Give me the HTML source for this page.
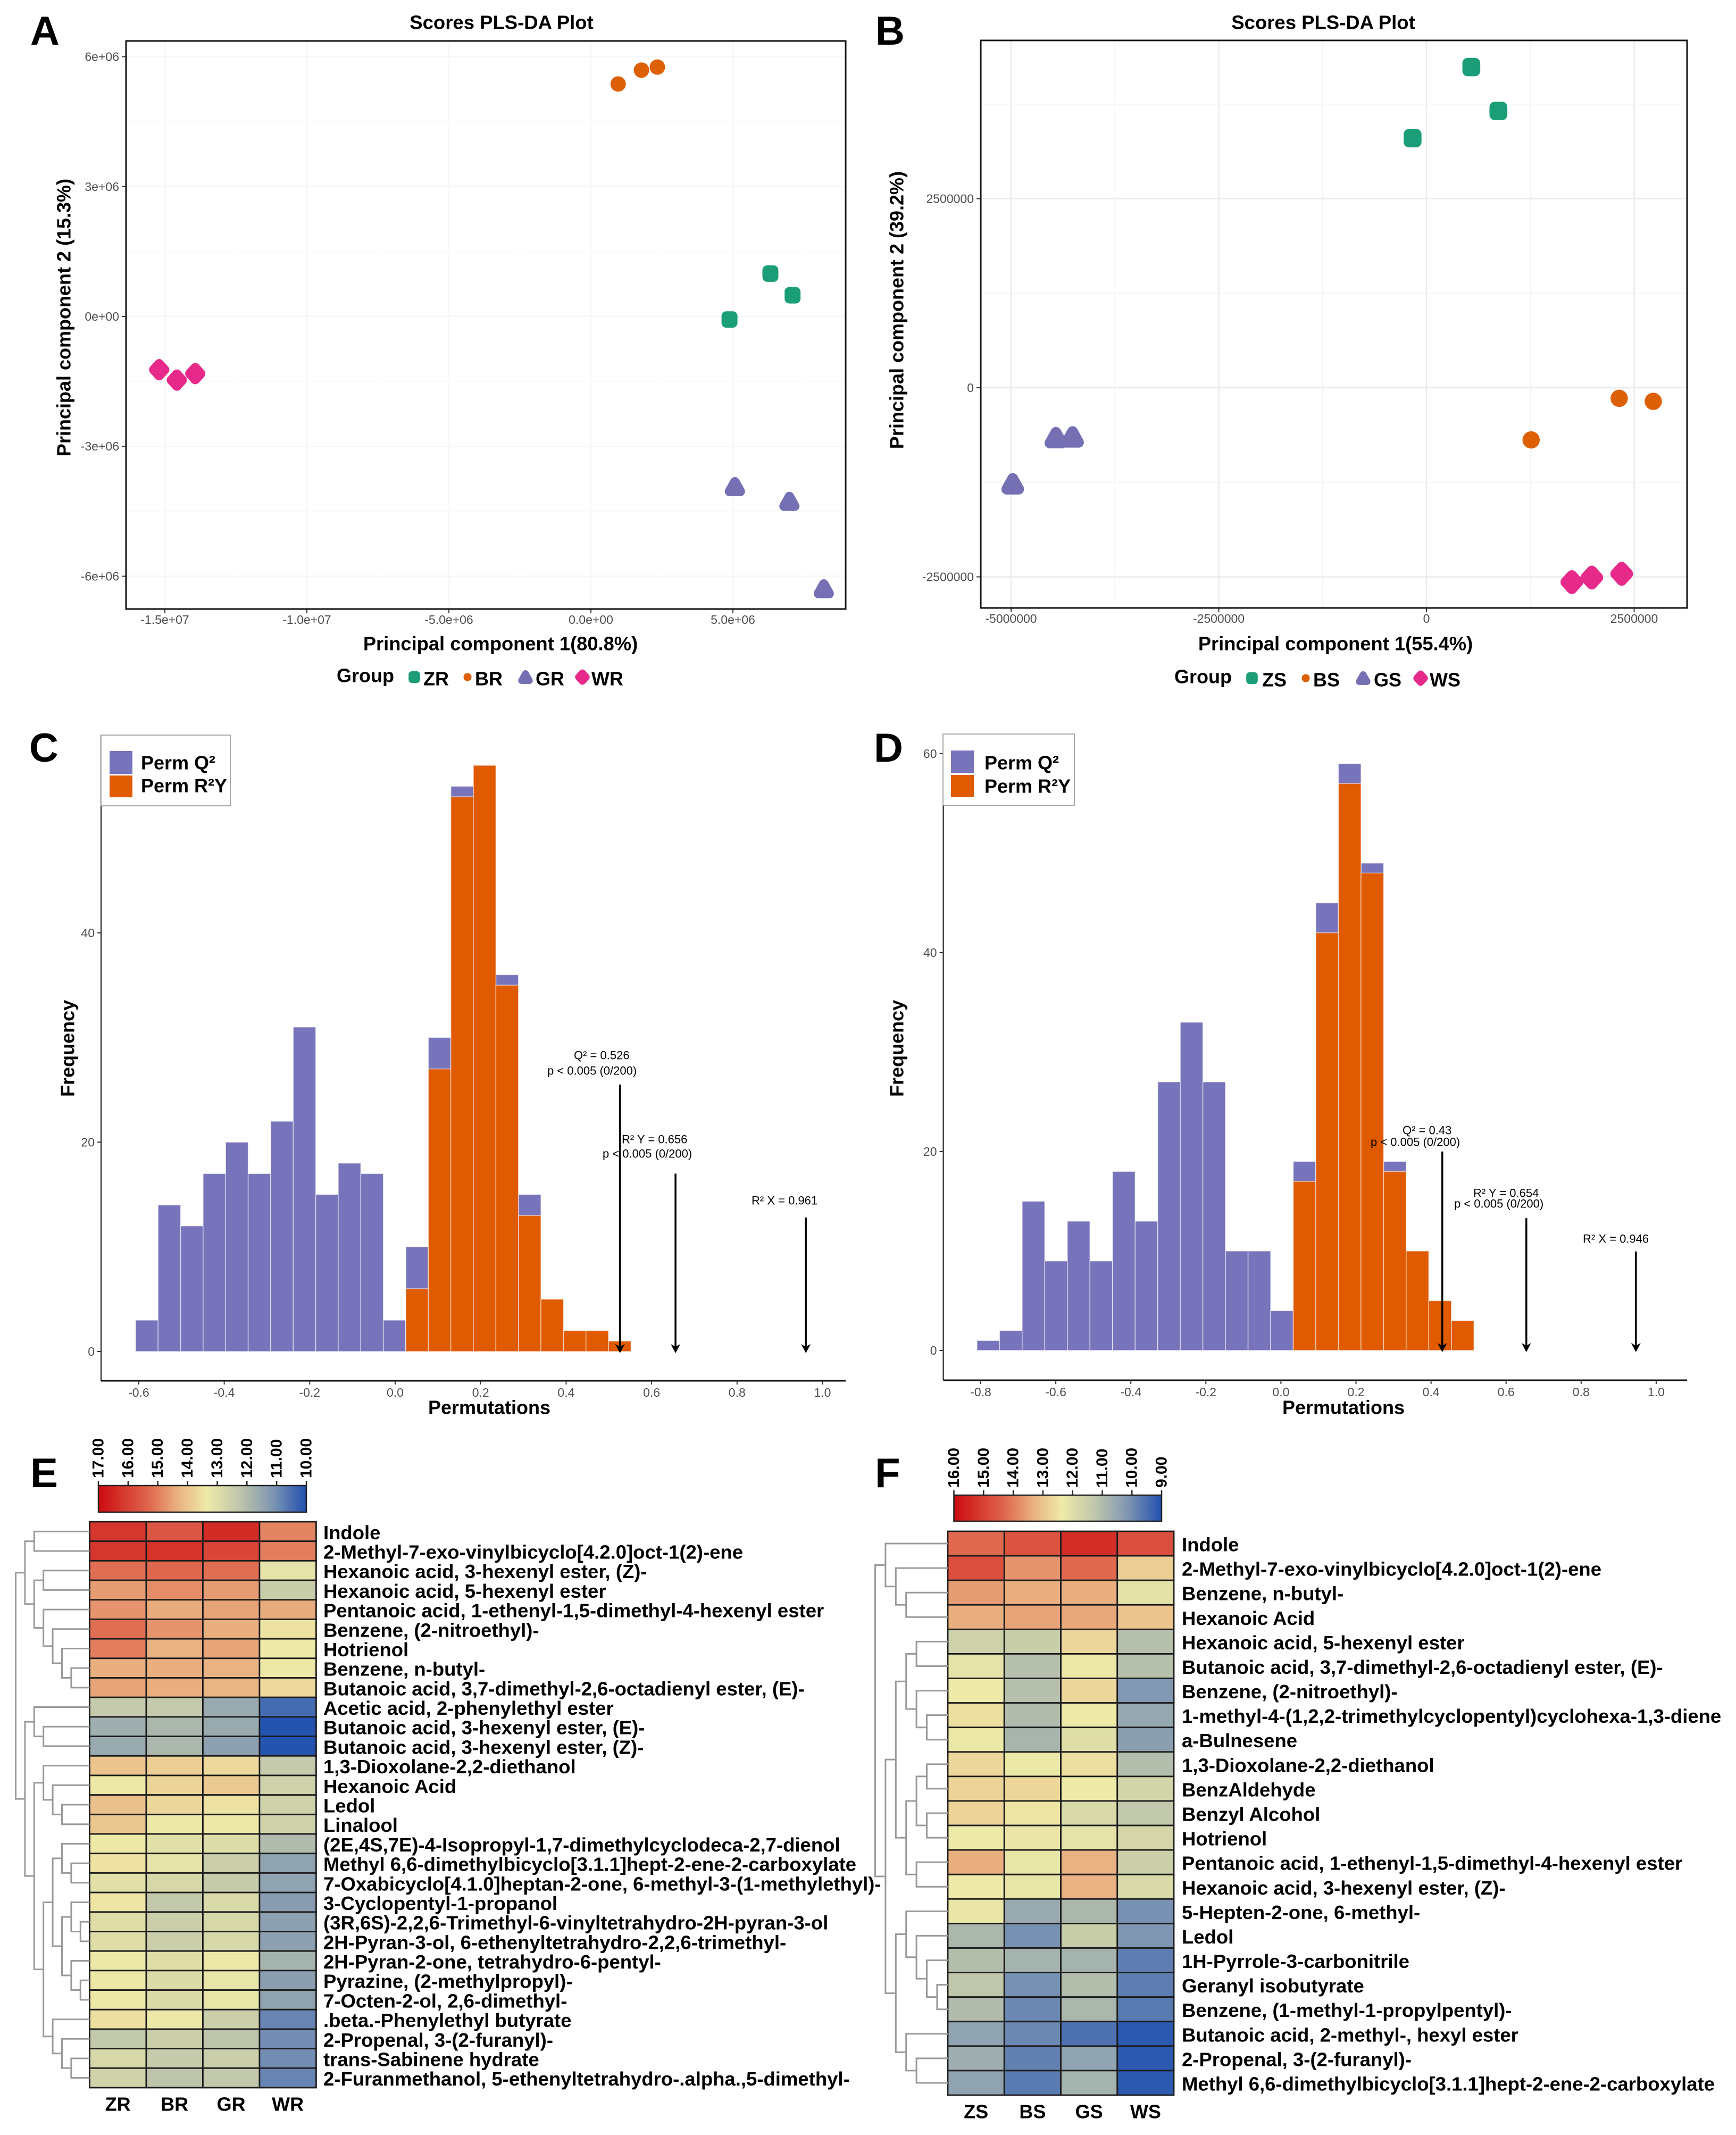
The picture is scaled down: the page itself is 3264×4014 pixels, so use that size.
<!DOCTYPE html>
<html lang="en">
<head>
<meta charset="utf-8">
<title>PLS-DA scores, permutation tests and heatmaps</title>
<style>
html,body{margin:0;padding:0;background:#fff;}
svg{display:block;font-family:"Liberation Sans",Arial,sans-serif;}
.b{font-weight:700;fill:#000;}
.ann{font-size:22px;fill:#000;}
</style>
</head>
<body>
<svg id="fig" xmlns="http://www.w3.org/2000/svg" width="3264" height="4014" viewBox="0 0 3264 4014">
<defs>
<linearGradient id="ramp" x1="0" y1="0" x2="1" y2="0">
<stop offset="0" stop-color="#cc0a10"/><stop offset="0.25" stop-color="#e06a50"/><stop offset="0.38" stop-color="#e9b080"/><stop offset="0.52" stop-color="#eeeaa8"/><stop offset="0.68" stop-color="#bfc6ab"/><stop offset="0.84" stop-color="#7d95b2"/><stop offset="1" stop-color="#2050b0"/>
</linearGradient>
</defs>
<rect width="3264" height="4014" fill="#fff"/>

<g id="panelA">
<text class="b" x="57" y="84" font-size="76">A</text>
<text class="b" x="943" y="42" font-size="36.5" text-anchor="middle" dominant-baseline="central">Scores PLS-DA Plot</text>
<text class="b" x="941" y="1210" font-size="36.3" text-anchor="middle" dominant-baseline="central">Principal component 1(80.8%)</text>
<text class="b" x="120" y="597" font-size="36" text-anchor="middle" dominant-baseline="central" transform="rotate(-90 120 597)">Principal component 2 (15.3%)</text>
<text class="b" x="633" y="1270" font-size="36" dominant-baseline="central">Group</text>
</g>

<g id="panelB">
<text class="b" x="1646" y="84" font-size="76">B</text>
<text class="b" x="2488" y="42" font-size="36.5" text-anchor="middle" dominant-baseline="central">Scores PLS-DA Plot</text>
<text class="b" x="2511" y="1210" font-size="36.3" text-anchor="middle" dominant-baseline="central">Principal component 1(55.4%)</text>
<text class="b" x="1686" y="583" font-size="36" text-anchor="middle" dominant-baseline="central" transform="rotate(-90 1686 583)">Principal component 2 (39.2%)</text>
<text class="b" x="2208" y="1272" font-size="36" dominant-baseline="central">Group</text>
</g>

<g id="panelC">
<text class="b" x="55" y="1432" font-size="76">C</text>
<text class="b" x="920" y="2646" font-size="36" text-anchor="middle" dominant-baseline="central">Permutations</text>
<text class="b" x="127" y="1971" font-size="36" text-anchor="middle" dominant-baseline="central" transform="rotate(-90 127 1971)">Frequency</text>
</g>
<g id="annC">
<text class="ann" x="1079" y="1984" dominant-baseline="central">Q² = 0.526</text>
<text class="ann" x="1029" y="2013" dominant-baseline="central">p &lt; 0.005 (0/200)</text>
<text class="ann" x="1169" y="2142" dominant-baseline="central">R² Y = 0.656</text>
<text class="ann" x="1133" y="2169" dominant-baseline="central">p &lt; 0.005 (0/200)</text>
<text class="ann" x="1413" y="2257" dominant-baseline="central">R² X = 0.961</text>
</g>
<g>
<rect x="190" y="1382" width="243" height="133" fill="#fff" stroke="#8a8a8a" stroke-width="1.5"/>
<rect x="206" y="1412" width="43" height="43" fill="#7874bb"/>
<rect x="206" y="1458" width="43" height="41" fill="#e05a00"/>
<text class="b" x="265" y="1434" font-size="36" dominant-baseline="central">Perm Q²</text>
<text class="b" x="265" y="1477" font-size="36" dominant-baseline="central">Perm R²Y</text>
</g>

<g id="panelD">
<text class="b" x="1643" y="1432" font-size="76">D</text>
<text class="b" x="2526" y="2646" font-size="36" text-anchor="middle" dominant-baseline="central">Permutations</text>
<text class="b" x="1686" y="1971" font-size="36" text-anchor="middle" dominant-baseline="central" transform="rotate(-90 1686 1971)">Frequency</text>
</g>
<g id="annD">
<text class="ann" x="2637" y="2125" dominant-baseline="central">Q² = 0.43</text>
<text class="ann" x="2577" y="2147" dominant-baseline="central">p &lt; 0.005 (0/200)</text>
<text class="ann" x="2770" y="2243" dominant-baseline="central">R² Y = 0.654</text>
<text class="ann" x="2734" y="2263" dominant-baseline="central">p &lt; 0.005 (0/200)</text>
<text class="ann" x="2976" y="2329" dominant-baseline="central">R² X = 0.946</text>
</g>
<g>
<rect x="1773" y="1380" width="247" height="134" fill="#fff" stroke="#8a8a8a" stroke-width="1.5"/>
<rect x="1788" y="1411" width="43" height="42" fill="#7874bb"/>
<rect x="1788" y="1457" width="43" height="41" fill="#e05a00"/>
<text class="b" x="1851" y="1434" font-size="36" dominant-baseline="central">Perm Q²</text>
<text class="b" x="1851" y="1478" font-size="36" dominant-baseline="central">Perm R²Y</text>
</g>

<g id="panelE">
<text class="b" x="57" y="2796" font-size="78">E</text>
<rect x="185" y="2793" width="391" height="50" fill="url(#ramp)" stroke="#222" stroke-width="2.5"/>
</g>
<g id="panelF">
<text class="b" x="1645" y="2796" font-size="78">F</text>
<rect x="1793.5" y="2811" width="390.5" height="49" fill="url(#ramp)" stroke="#222" stroke-width="2.5"/>
</g>
</svg>

<script>
// ---------- Panel A scores (units of 1e6) ----------
const aXTicks = [-15, -10, -5, 0, 5];
const aXTickLabels = ['-1.5e+07', '-1.0e+07', '-5.0e+06', '0.0e+00', '5.0e+06'];
const aYTicks = [-6, -3, 0, 3, 6];
const aYTickLabels = ['-6e+06', '-3e+06', '0e+00', '3e+06', '6e+06'];
const aZrX = [6.32, 7.10, 4.88];
const aZrY = [0.99, 0.49, -0.07];
const aBrX = [0.96, 1.78, 2.34];
const aBrY = [5.37, 5.69, 5.76];
const aGrX = [5.07, 6.99, 8.20];
const aGrY = [-3.93, -4.27, -6.29];
const aWrX = [-15.2, -14.58, -13.93];
const aWrY = [-1.23, -1.47, -1.32];

// ---------- Panel B scores (units of 1e6) ----------
const bXTicks = [-5, -2.5, 0, 2.5];
const bXTickLabels = ['-5000000', '-2500000', '0', '2500000'];
const bYTicks = [-2.5, 0, 2.5];
const bYTickLabels = ['-2500000', '0', '2500000'];
const bZsX = [0.54, 0.866, -0.167];
const bZsY = [4.24, 3.66, 3.30];
const bBsX = [2.32, 2.73, 1.26];
const bBsY = [-0.14, -0.18, -0.69];
const bGsX = [-4.98, -4.46, -4.26];
const bGsY = [-1.27, -0.66, -0.65];
const bWsX = [1.75, 1.99, 2.35];
const bWsY = [-2.57, -2.51, -2.46];

// ---------- Panel C histogram ----------
const cXTicks = [-0.6, -0.4, -0.2, 0, 0.2, 0.4, 0.6, 0.8, 1.0];
const cYTicks = [0, 20, 40];
const cBinStart = -0.6075;
const cBinWidth = 0.0527;
const cQ2Counts = [3, 14, 12, 17, 20, 17, 22, 31, 15, 18, 17, 3, 10, 30, 54, 55, 36, 15];
const cR2yCounts = [0, 0, 0, 0, 0, 0, 0, 0, 0, 0, 0, 0, 6, 27, 53, 56, 35, 13, 5, 2, 2, 1];
const cArrowValues = [0.526, 0.656, 0.961];
const cArrowTops = [25.5, 17, 12.8];

// ---------- Panel D histogram ----------
const dXTicks = [-0.8, -0.6, -0.4, -0.2, 0, 0.2, 0.4, 0.6, 0.8, 1.0];
const dYTicks = [0, 20, 40, 60];
const dBinStart = -0.81;
const dBinWidth = 0.0602;
const dQ2Counts = [1, 2, 15, 9, 13, 9, 18, 13, 27, 33, 27, 10, 10, 4, 19, 45, 59, 49, 19];
const dR2yCounts = [0, 0, 0, 0, 0, 0, 0, 0, 0, 0, 0, 0, 0, 0, 17, 42, 57, 48, 18, 10, 5, 3];
const dArrowValues = [0.43, 0.654, 0.946];
const dArrowTops = [20, 13.3, 9.95];

// ---------- Panel E heatmap ----------
const eColumns = ['ZR', 'BR', 'GR', 'WR'];
const eRows = ['Indole','2-Methyl-7-exo-vinylbicyclo[4.2.0]oct-1(2)-ene','Hexanoic acid, 3-hexenyl ester, (Z)-','Hexanoic acid, 5-hexenyl ester','Pentanoic acid, 1-ethenyl-1,5-dimethyl-4-hexenyl ester','Benzene, (2-nitroethyl)-','Hotrienol','Benzene, n-butyl-','Butanoic acid, 3,7-dimethyl-2,6-octadienyl ester, (E)-','Acetic acid, 2-phenylethyl ester','Butanoic acid, 3-hexenyl ester, (E)-','Butanoic acid, 3-hexenyl ester, (Z)-','1,3-Dioxolane-2,2-diethanol','Hexanoic Acid','Ledol','Linalool','(2E,4S,7E)-4-Isopropyl-1,7-dimethylcyclodeca-2,7-dienol','Methyl 6,6-dimethylbicyclo[3.1.1]hept-2-ene-2-carboxylate','7-Oxabicyclo[4.1.0]heptan-2-one, 6-methyl-3-(1-methylethyl)-','3-Cyclopentyl-1-propanol','(3R,6S)-2,2,6-Trimethyl-6-vinyltetrahydro-2H-pyran-3-ol','2H-Pyran-3-ol, 6-ethenyltetrahydro-2,2,6-trimethyl-','2H-Pyran-2-one, tetrahydro-6-pentyl-','Pyrazine, (2-methylpropyl)-','7-Octen-2-ol, 2,6-dimethyl-','.beta.-Phenylethyl butyrate','2-Propenal, 3-(2-furanyl)-','trans-Sabinene hydrate','2-Furanmethanol, 5-ethenyltetrahydro-.alpha.,5-dimethyl-'];
const eZR = [16.2,16.2,15.2,14.6,14.7,15.2,15.0,14.35,14.5,12.35,11.7,11.6,14.0,13.4,14.05,13.95,13.4,13.5,13.05,13.45,13.0,13.0,13.3,13.4,13.4,13.55,12.3,12.8,12.65];
const eBR = [15.6,16.25,15.3,14.8,14.4,14.7,14.3,14.35,14.35,12.35,11.9,11.9,13.85,13.75,13.7,13.3,13.05,13.15,12.8,12.3,12.5,12.5,13.0,12.9,12.9,13.3,12.5,12.4,12.2];
const eGR = [16.4,15.9,15.2,14.6,14.5,14.35,14.5,14.3,14.25,11.6,11.6,11.4,13.65,13.9,13.5,13.4,12.95,12.5,12.4,12.85,12.8,12.8,13.4,13.2,13.2,12.5,12.2,12.5,12.3];
const eWR = [14.9,15.0,13.15,12.45,14.4,13.5,13.35,13.4,13.65,10.45,10.05,10.05,12.35,12.6,12.65,12.65,12.0,11.45,11.45,11.3,11.4,11.4,11.8,11.35,11.45,10.85,11.0,11.0,10.85];
const eScaleTicks = [17, 16, 15, 14, 13, 12, 11, 10];
const eTree = [0,[1,[2,0,1],[2,[3,2,3],[3,4,[4,5,[5,6,[6,7,8]]]]]],[1,[2,9,[3,10,11]],[2,[3,12,[4,13,[5,14,15]]],[3,[4,[5,16,[6,17,18]],[5,[6,19,[7,20,21]],[6,22,[7,23,24]]]],[4,25,[5,26,[6,27,28]]]]]]];

// ---------- Panel F heatmap ----------
const fColumns = ['ZS', 'BS', 'GS', 'WS'];
const fRows = ['Indole','2-Methyl-7-exo-vinylbicyclo[4.2.0]oct-1(2)-ene','Benzene, n-butyl-','Hexanoic Acid','Hexanoic acid, 5-hexenyl ester','Butanoic acid, 3,7-dimethyl-2,6-octadienyl ester, (E)-','Benzene, (2-nitroethyl)-','1-methyl-4-(1,2,2-trimethylcyclopentyl)cyclohexa-1,3-diene','a-Bulnesene','1,3-Dioxolane-2,2-diethanol','BenzAldehyde','Benzyl Alcohol','Hotrienol','Pentanoic acid, 1-ethenyl-1,5-dimethyl-4-hexenyl ester','Hexanoic acid, 3-hexenyl ester, (Z)-','5-Hepten-2-one, 6-methyl-','Ledol','1H-Pyrrole-3-carbonitrile','Geranyl isobutyrate','Benzene, (1-methyl-1-propylpentyl)-','Butanoic acid, 2-methyl-, hexyl ester','2-Propenal, 3-(2-furanyl)-','Methyl 6,6-dimethylbicyclo[3.1.1]hept-2-ene-2-carboxylate'];
const fZS = [14.25,14.75,13.6,13.35,11.6,12.15,12.35,12.55,12.3,12.7,12.75,12.75,12.35,13.35,12.35,12.25,10.9,11.05,11.25,11.0,10.45,10.7,10.45];
const fBS = [14.65,13.7,13.35,13.5,11.45,11.1,11.1,11.0,10.85,12.3,12.7,12.45,12.25,12.2,12.2,10.6,10.05,10.8,10.05,9.9,9.9,9.8,9.7];
const fGS = [15.35,14.25,13.35,13.45,12.7,12.4,12.7,12.35,12.0,12.55,12.35,11.85,12.15,13.3,13.3,10.9,11.45,10.8,11.05,10.9,9.55,10.45,10.8];
const fWS = [14.75,12.85,12.1,13.0,11.1,11.1,10.2,10.55,10.35,11.05,11.7,11.3,11.75,11.55,11.85,10.05,10.15,9.75,9.75,9.7,9.15,9.15,9.15];
const fScaleTicks = [16, 15, 14, 13, 12, 11, 10, 9];
const fTree = [0,[1,0,[2,1,[3,2,3]]],[1,[2,[3,[4,4,5],[4,6,[5,7,8]]],[3,[4,[5,9,10],[5,11,12]],[4,13,14]]],[2,[3,15,[4,16,[5,17,[6,18,19]]]],[3,20,[4,21,22]]]]];

// ---------- helpers ----------
const NS = 'http://www.w3.org/2000/svg';
const COL = {square:'#1b9e77', circle:'#dd5f06', triangle:'#7570b3', diamond:'#e7298a'};
function mk(tag, parent, attrs) {
  const el = document.createElementNS(NS, tag);
  for (const k in attrs) el.setAttribute(k, attrs[k]);
  parent.appendChild(el);
  return el;
}
function txt(parent, str, attrs) {
  const el = mk('text', parent, attrs);
  el.textContent = str;
  return el;
}
function line(parent, x1, y1, x2, y2, stroke, w) {
  return mk('line', parent, {x1, y1, x2, y2, stroke, 'stroke-width': w});
}
function marker(parent, shape, x, y, s) {
  let el;
  const c = COL[shape];
  if (shape === 'square') {
    el = mk('rect', parent, {x: x - 15*s, y: y - 15.5*s, width: 30*s, height: 31*s, rx: 9*s, fill: c});
  } else if (shape === 'circle') {
    el = mk('circle', parent, {cx: x, cy: y, r: 14.5*s, fill: c});
  } else if (shape === 'triangle') {
    const p = [[0,-9],[-10,9],[10,9]].map(q => (x + q[0]*s) + ',' + (y + q[1]*s)).join(' ');
    el = mk('polygon', parent, {points: p, fill: c, stroke: c, 'stroke-width': 18*s, 'stroke-linejoin': 'round'});
  } else {
    const p = [[0,-11],[-10,0],[0,11],[10,0]].map(q => (x + q[0]*s) + ',' + (y + q[1]*s)).join(' ');
    el = mk('polygon', parent, {points: p, fill: c, stroke: c, 'stroke-width': 18*s, 'stroke-linejoin': 'round'});
  }
  return el;
}

function drawScatter(parent, cfg) {
  const g = mk('g', parent, {});
  
  
  const bg = mk('rect', g, {x: cfg.l, y: cfg.t, width: cfg.r - cfg.l, height: cfg.b - cfg.t, fill: '#fff'});
  
  
  // gridlines (major plus halfway minor)
  const xt = cfg.xTicks, yt = cfg.yTicks;
  const xStep = xt[1] - xt[0], yStep = yt[1] - yt[0];
  for (let v = xt[0] - xStep/2; cfg.x(v) < cfg.r; v += xStep/2) {
    if (cfg.x(v) <= cfg.l) continue;
    const major = xt.some(m => Math.abs(m - v) < 1e-9);
    const gl = line(g, cfg.x(v), cfg.t, cfg.x(v), cfg.b, major ? cfg.gridMajor : cfg.gridMinor, major ? 2.5 : 1.5);
    
    
  }
  for (let v = yt[0] - yStep/2; cfg.y(v) > cfg.t; v += yStep/2) {
    if (cfg.y(v) >= cfg.b) continue;
    const major = yt.some(m => Math.abs(m - v) < 1e-9);
    const gl = line(g, cfg.l, cfg.y(v), cfg.r, cfg.y(v), major ? cfg.gridMajor : cfg.gridMinor, major ? 2.5 : 1.5);
    
    
  }
  xt.forEach((v, i) => {
    const tick = line(g, cfg.x(v), cfg.b, cfg.x(v), cfg.b + 8, '#333', 2);
    
    
    const lab = txt(g, cfg.xLabels[i], {x: cfg.x(v), y: cfg.b + 20, 'font-size': 23, fill: '#4d4d4d', 'text-anchor': 'middle', 'dominant-baseline': 'central'});
    
    
  });
  yt.forEach((v, i) => {
    const tick = line(g, cfg.l - 8, cfg.y(v), cfg.l, cfg.y(v), '#333', 2);
    
    
    const lab = txt(g, cfg.yLabels[i], {x: cfg.l - 13, y: cfg.y(v), 'font-size': 23, fill: '#4d4d4d', 'text-anchor': 'end', 'dominant-baseline': 'central'});
    
    
  });
  cfg.series.forEach(s => {
    s.xs.forEach((v, i) => {
      const m = marker(g, s.shape, cfg.x(v), cfg.y(s.ys[i]), cfg.size);
      
      
    });
  });
  const frame = mk('rect', g, {x: cfg.l, y: cfg.t, width: cfg.r - cfg.l, height: cfg.b - cfg.t, fill: 'none', stroke: '#111', 'stroke-width': 3});
  
  
  cfg.legend.forEach(e => {
    const m = marker(g, e.shape, e.mx, cfg.legendY, e.shape === 'circle' ? 0.52 : 0.72);
    
    
    const t = txt(g, e.label, {x: e.tx, y: cfg.legendY + 3, 'font-size': 36, 'font-weight': 700, 'dominant-baseline': 'central'});
    
    
  });
}

function drawHist(parent, before, cfg) {
  const g = mk('g', parent, {});
  parent.insertBefore(g, before);
  
  
  function bars(counts, fill, name) {
    counts.forEach((c, i) => {
      if (c <= 0) return;
      const x0 = cfg.x(cfg.start + i*cfg.width), x1 = cfg.x(cfg.start + (i+1)*cfg.width);
      const rect = mk('rect', g, {x: x0, y: cfg.y(c), width: x1 - x0, height: cfg.y(0) - cfg.y(c), fill, stroke: '#fff', 'stroke-opacity': 0.6, 'stroke-width': 1.5});
      
      
    });
  }
  bars(cfg.q2, '#7874bb', 'bar-perm-q2');
  bars(cfg.r2y, '#e05a00', 'bar-perm-r2y');
  const ax = line(g, cfg.l, cfg.b, cfg.r, cfg.b, '#111', 3);
  
  
  const ay = line(g, cfg.l, cfg.t, cfg.l, cfg.b, '#111', 2);
  
  
  cfg.xTicks.forEach(v => {
    const tick = line(g, cfg.x(v), cfg.b, cfg.x(v), cfg.b + 7, '#333', 2);
    
    
    const lab = txt(g, v.toFixed(1), {x: cfg.x(v), y: cfg.b + 22, 'font-size': 23, fill: '#4d4d4d', 'text-anchor': 'middle', 'dominant-baseline': 'central'});
    
    
  });
  cfg.yTicks.forEach(v => {
    const tick = line(g, cfg.l - 7, cfg.y(v), cfg.l, cfg.y(v), '#333', 2);
    
    
    const lab = txt(g, String(v), {x: cfg.l - 12, y: cfg.y(v), 'font-size': 23, fill: '#4d4d4d', 'text-anchor': 'end', 'dominant-baseline': 'central'});
    
    
  });
  cfg.arrows.forEach((v, i) => {
    const px = cfg.x(v), py = cfg.y(0);
    const shaft = line(g, px, cfg.y(cfg.arrowTops[i]), px, py - 6, '#000', 3.5);
    
    
    const head = mk('polygon', g, {points: (px - 9) + ',' + (py - 14) + ' ' + px + ',' + (py + 3) + ' ' + (px + 9) + ',' + (py - 14) + ' ' + px + ',' + (py - 9), fill: '#000'});
    
    
  });
}

const rampPos = [0, 0.25, 0.38, 0.52, 0.68, 0.84, 1];
const rampRgb = [[204,10,16],[224,106,80],[233,176,128],[238,234,168],[191,198,171],[125,149,178],[32,80,176]];
function rampColor(t) {
  t = Math.max(0, Math.min(1, t));
  let i = 0;
  while (i < rampPos.length - 2 && t > rampPos[i+1]) i++;
  const f = (t - rampPos[i]) / (rampPos[i+1] - rampPos[i]);
  const c = rampRgb[i].map((a, k) => Math.round(a + (rampRgb[i+1][k] - a)*f));
  return 'rgb(' + c.join(',') + ')';
}

function drawHeat(parent, cfg) {
  const g = mk('g', parent, {});
  
  
  const n = cfg.rows.length;
  const rowH = (cfg.b - cfg.t) / n, colW = (cfg.r - cfg.l) / cfg.columns.length;
  const rowY = i => cfg.t + rowH*(i + 0.5);
  cfg.values.forEach((col, j) => {
    col.forEach((v, i) => {
      const cell = mk('rect', g, {x: cfg.l + j*colW, y: cfg.t + i*rowH, width: colW, height: rowH, fill: rampColor((cfg.max - v)/(cfg.max - cfg.min)), stroke: '#1c1c1c', 'stroke-width': 2.8});
      
      
    });
  });
  cfg.rows.forEach((name, i) => {
    const t = txt(g, name, {x: cfg.labelX, y: rowY(i) + 2, 'font-size': 36.5, 'font-weight': 700, 'dominant-baseline': 'central'});
    
    
  });
  cfg.columns.forEach((name, j) => {
    const t = txt(g, name, {x: cfg.l + (j + 0.5)*colW, y: cfg.colLabelY, 'font-size': 36, 'font-weight': 700, 'text-anchor': 'middle', 'dominant-baseline': 'central'});
    
    
  });
  // dendrogram
  function walk(node) {
    if (typeof node === 'number') return {x: cfg.l, y: rowY(node)};
    const a = walk(node[1]), b = walk(node[2]);
    const bx = cfg.treeX0 + node[0]*cfg.treeStep;
    const d = 'M' + a.x + ' ' + a.y + 'H' + bx + 'V' + b.y + 'H' + b.x;
    const p = mk('path', g, {d, fill: 'none', stroke: '#9a9a9a', 'stroke-width': 3});
    
    
    return {x: bx, y: (a.y + b.y)/2};
  }
  walk(cfg.tree);
  // color scale ticks
  cfg.scaleTicks.forEach(v => {
    const x = cfg.barL + (cfg.max - v)/(cfg.max - cfg.min)*(cfg.barR - cfg.barL);
    const tick = line(g, x, cfg.barT - 9, x, cfg.barT, '#222', 2.5);
    
    
    const ly = cfg.barT - 14;
    const lab = txt(g, v.toFixed(2), {x, y: ly, 'font-size': 30, 'font-weight': 700, 'dominant-baseline': 'central', transform: 'rotate(-90 ' + x + ' ' + ly + ')'});
    
    
  });
}

// ---------- build ----------
const axScaleX = v => 1111 + v*53.4;
const axScaleY = v => 595 - v*81.4;
drawScatter(document.getElementById('panelA'), {
  l: 237, r: 1590, t: 77, b: 1145, x: axScaleX, y: axScaleY, size: 1,
  xTicks: aXTicks, xLabels: aXTickLabels, yTicks: aYTicks, yLabels: aYTickLabels,
  gridMajor: '#f6f6f6', gridMinor: '#fafafa', legendY: 1273,
  series: [{shape:'square', xs:aZrX, ys:aZrY},{shape:'circle', xs:aBrX, ys:aBrY},{shape:'triangle', xs:aGrX, ys:aGrY},{shape:'diamond', xs:aWrX, ys:aWrY}],
  legend: [{shape:'square', label:'ZR', mx:779, tx:796},{shape:'circle', label:'BR', mx:879, tx:893},{shape:'triangle', label:'GR', mx:988, tx:1007},{shape:'diamond', label:'WR', mx:1095, tx:1112}]
});
const bxScaleX = v => 2682 + v*156.2;
const bxScaleY = v => 729 - v*142.2;
drawScatter(document.getElementById('panelB'), {
  l: 1844, r: 3172, t: 76, b: 1143, x: bxScaleX, y: bxScaleY, size: 1.12,
  xTicks: bXTicks, xLabels: bXTickLabels, yTicks: bYTicks, yLabels: bYTickLabels,
  gridMajor: '#ebebeb', gridMinor: '#f3f3f3', legendY: 1275,
  series: [{shape:'square', xs:bZsX, ys:bZsY},{shape:'circle', xs:bBsX, ys:bBsY},{shape:'triangle', xs:bGsX, ys:bGsY},{shape:'diamond', xs:bWsX, ys:bWsY}],
  legend: [{shape:'square', label:'ZS', mx:2354, tx:2373},{shape:'circle', label:'BS', mx:2455, tx:2469},{shape:'triangle', label:'GS', mx:2563, tx:2583},{shape:'diamond', label:'WS', mx:2671, tx:2688}]
});
const svg = document.getElementById('fig');
drawHist(svg, document.getElementById('annC'), {
  l: 190, r: 1590, t: 1382, b: 2596, x: v => 743 + v*803.5, y: v => 2541 - v*19.68,
  start: cBinStart, width: cBinWidth, q2: cQ2Counts, r2y: cR2yCounts, xTicks: cXTicks, yTicks: cYTicks, arrows: cArrowValues, arrowTops: cArrowTops
});
drawHist(svg, document.getElementById('annD'), {
  l: 1773.5, r: 3172, t: 1381, b: 2595, x: v => 2408.4 + v*705.5, y: v => 2539 - v*18.7,
  start: dBinStart, width: dBinWidth, q2: dQ2Counts, r2y: dR2yCounts, xTicks: dXTicks, yTicks: dYTicks, arrows: dArrowValues, arrowTops: dArrowTops
});
drawHeat(document.getElementById('panelE'), {
  l: 168.4, r: 594.4, t: 2861, b: 3925, rows: eRows, columns: eColumns, values: [eZR, eBR, eGR, eWR], max: 17, min: 10,
  labelX: 608, colLabelY: 3956, tree: eTree, treeX0: 29.5, treeStep: 17.4, scaleTicks: eScaleTicks, barL: 185, barR: 576, barT: 2793
});
drawHeat(document.getElementById('panelF'), {
  l: 1782, r: 2207, t: 2879, b: 3939, rows: fRows, columns: fColumns, values: [fZS, fBS, fGS, fWS], max: 16, min: 9,
  labelX: 2222, colLabelY: 3970, tree: fTree, treeX0: 1645.5, treeStep: 19.4, scaleTicks: fScaleTicks, barL: 1793.5, barR: 2184, barT: 2811
});
</script>
</body>
</html>
